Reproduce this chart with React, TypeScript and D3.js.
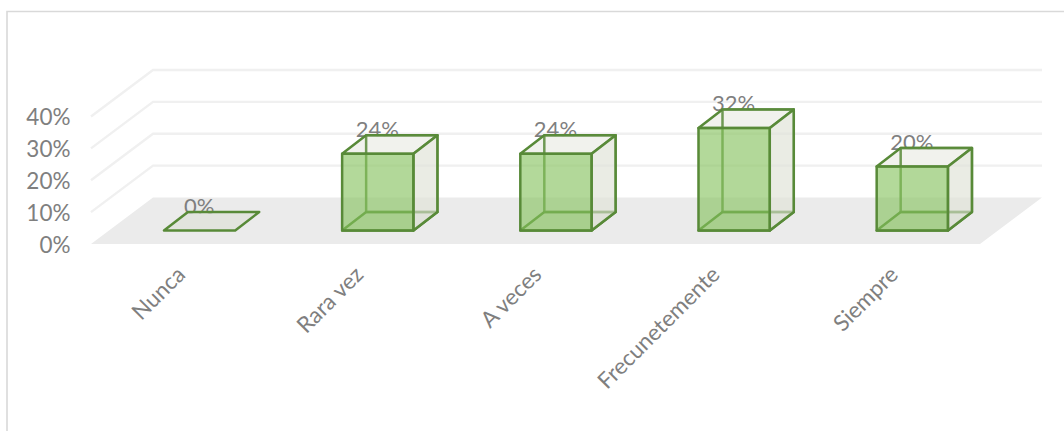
import React from "react";
import * as d3 from "d3";

const categories = ["Nunca", "Rara vez", "A veces", "Frecunetemente", "Siempre"];
const values = [0, 24, 24, 32, 20];
const axisTicks = [0, 10, 20, 30, 40];

const W = 1064;
const H = 431;
const FONT = "Lato, 'Open Sans', sans-serif";
const TXT = "#7f7f7f";
const EDGE = "#588a38";

// Depth offset of the column front to back and of the whole floor
const barDx = 24;
const barDy = -18.5;
const floorDx = 62;
const floorDy = -46.5;

const yBack = d3.scaleLinear().domain([0, 40]).range([197.5, 70]);
const yBar = d3.scaleLinear().domain([0, 40]).range([230.5, 102.5]);
const yLabel = d3.scaleLinear().domain([0, 40]).range([244.5, 116]);
const x = d3
  .scaleBand<string>()
  .domain(categories)
  .range([110.5, 1001.4])
  .paddingInner(0.6)
  .paddingOuter(0.3);

const backLeft = 153;
const backRight = 1042;

const poly = (pts: [number, number][]) => (d3.line()(pts) as string) + "Z";

function Bar({ cat, value }: { cat: string; value: number }) {
  const l = x(cat) as number;
  const r = l + x.bandwidth();
  const b = yBar(0);
  const t = yBar(value);
  const dx = barDx;
  const dy = barDy;
  const back = poly([[l + dx, t + dy], [r + dx, t + dy], [r + dx, b + dy], [l + dx, b + dy]]);
  const side = poly([[r, t], [r + dx, t + dy], [r + dx, b + dy], [r, b]]);
  const top = poly([[l, t], [l + dx, t + dy], [r + dx, t + dy], [r, t]]);
  const bottom = poly([[l, b], [l + dx, b + dy], [r + dx, b + dy], [r, b]]);
  const front = poly([[l, t], [r, t], [r, b], [l, b]]);
  const sw = 2.5;
  return (
    <g strokeLinejoin="round">
      <path d={bottom} fill="#dfe2da" fillOpacity={0.75} stroke={EDGE} strokeWidth={sw} />
      {value > 0 && (
        <>
          <path d={top} fill="#eef0ea" fillOpacity={0.85} stroke={EDGE} strokeWidth={sw} />
          <path d={back} fill="#f2f3ef" fillOpacity={0.25} stroke={EDGE} strokeOpacity={0.85} strokeWidth={sw} />
          <path d={side} fill="#dde1d6" fillOpacity={0.6} stroke={EDGE} strokeWidth={sw} />
          <path d={front} fill="#84c25c" fillOpacity={0.62} stroke={EDGE} strokeWidth={sw} />
        </>
      )}
    </g>
  );
}

export default function App() {
  return (
    <svg
      width={W}
      height={H}
      viewBox={`0 0 ${W} ${H}`}
      style={{ position: "absolute", left: 0, top: 0, background: "#fff" }}
    >
      <path d="M7 431V11.5H1064" fill="none" stroke="#d9d9d9" strokeWidth={1.6} />
      <path
        d={poly([
          [backLeft, yBack(0)],
          [backRight, yBack(0)],
          [backRight - floorDx, yBack(0) - floorDy],
          [backLeft - floorDx, yBack(0) - floorDy],
        ])}
        fill="#ebebeb"
      />
      {axisTicks.filter((t) => t > 0).map((t) => (
        <path
          key={t}
          d={`M${backLeft - floorDx} ${yBack(t) - floorDy}L${backLeft} ${yBack(t)}H${backRight}`}
          fill="none"
          stroke="#f0f0f0"
          strokeWidth={2.4}
        />
      ))}
      {axisTicks.map((t) => (
        <text
          key={t}
          x={70.5}
          y={yLabel(t)}
          textAnchor="end"
          dominantBaseline="central"
          fontFamily={FONT}
          fontSize={22.5}
          fill={TXT}
        >
          {t}%
        </text>
      ))}
      {categories.map((c, i) => (
        <text
          key={c}
          x={(x(c) as number) + x.bandwidth() / 2 - 0.5}
          y={yBar(values[i]) + barDy + 1.5}
          textAnchor="middle"
          fontFamily={FONT}
          fontSize={22}
          fill={TXT}
        >
          {values[i]}%
        </text>
      ))}
      {categories.map((c, i) => (
        <Bar key={c} cat={c} value={values[i]} />
      ))}
      {categories.map((c) => {
        const px = (x(c) as number) + x.bandwidth() / 2 - 19;
        const py = 270;
        return (
          <text
            key={c}
            transform={`translate(${px},${py}) rotate(-45)`}
            textAnchor="end"
            dominantBaseline="central"
            fontFamily={FONT}
            fontSize={22.5}
            fill={TXT}
          >
            {c}
          </text>
        );
      })}
    </svg>
  );
}
